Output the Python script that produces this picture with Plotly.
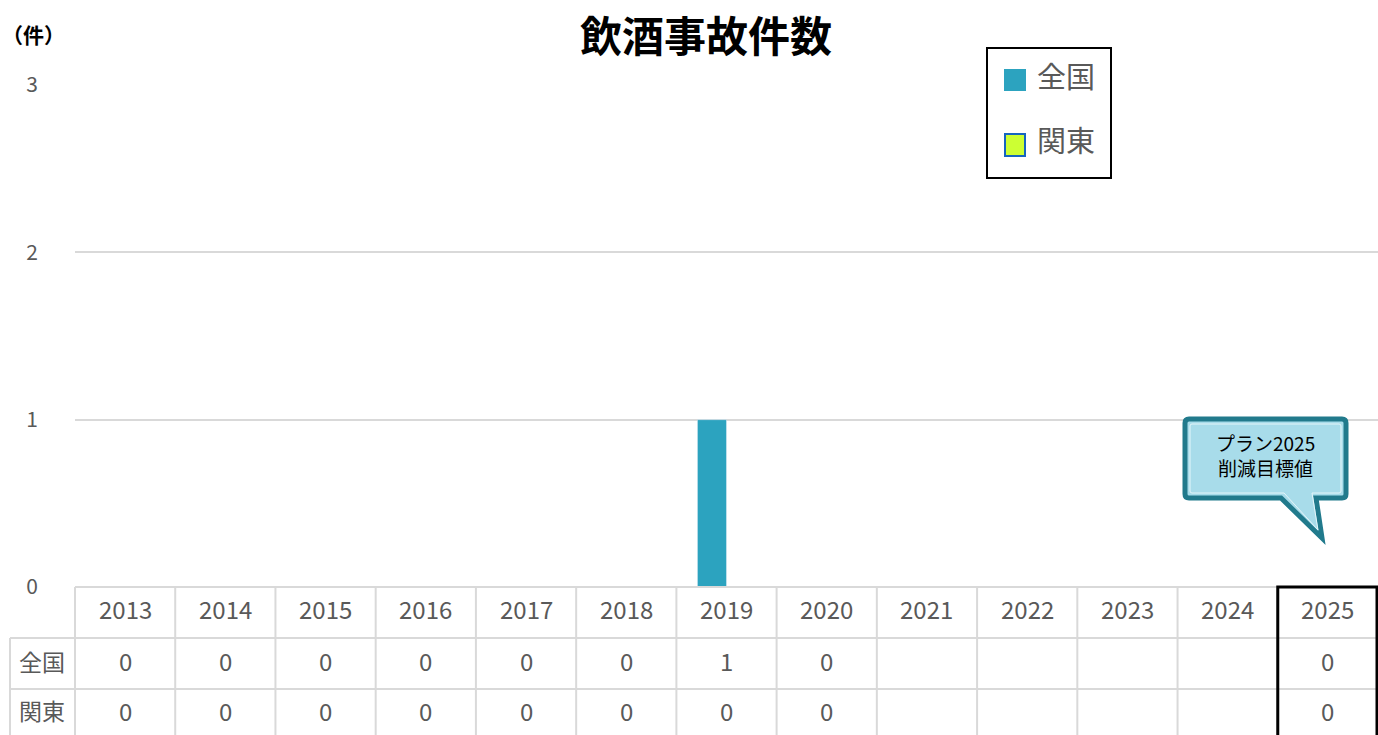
import plotly.graph_objects as go

years = ["2013", "2014", "2015", "2016", "2017", "2018", "2019", "2020",
         "2021", "2022", "2023", "2024", "2025"]
zenkoku = [0, 0, 0, 0, 0, 0, 1, 0, None, None, None, None, 0]
kanto = [0, 0, 0, 0, 0, 0, 0, 0, None, None, None, None, 0]
series_names = ["全国", "関東"]
series_colors = ["#2CA3BF", "#CCFF33"]
y_ticks = [0, 1, 2, 3]

W, H = 1378, 735
L, R, T, B = 75, 0, 85, 148
PW, PH = W - L - R, H - T - B

def px(x):
    return (x - L) / PW

def py(y):
    return (H - B - y) / PH

FONT = "Noto Sans CJK JP"
GRAY = "#595959"
GRID = "#D9D9D9"

fig = go.Figure()
fig.add_bar(x=years, y=zenkoku, name=series_names[0], marker=dict(color=series_colors[0]))
fig.add_bar(x=years, y=kanto, name=series_names[1],
            marker=dict(color=series_colors[1], line=dict(color="#1565C0", width=1)))

shapes = []
annotations = []

def text(xp, yp, t, size, color=GRAY, xanchor="center", xref="paper", xv=None):
    annotations.append(dict(x=xv if xv is not None else px(xp), xref=xref,
                            y=py(yp), yref="paper", text=t, showarrow=False,
                            xanchor=xanchor, yanchor="middle",
                            font=dict(family=FONT, size=size, color=color)))

# table grid
top, r1, r2, bot = 587, 638, 689, 735
def line(x0, y0, x1, y1, color=GRID, width=2):
    shapes.append(dict(type="line", xref="paper", yref="paper",
                       x0=px(x0), y0=py(y0), x1=px(x1), y1=py(y1),
                       line=dict(color=color, width=width)))

line(75, top, W, top)
line(10, r1, W, r1)
line(10, r2, W, r2)
line(10, r1, 10, bot)
cw = PW / len(years)
for i in range(len(years) + 1):
    xx = L + i * cw
    line(xx, top, xx, bot)

# highlight 2025 column
x25 = L + (len(years) - 1) * cw
shapes.append(dict(type="path", xref="paper", yref="paper",
                   path=f"M{px(x25)},{py(bot+5)} L{px(x25)},{py(top)} L{px(W-1)},{py(top)} L{px(W-1)},{py(bot+5)}",
                   line=dict(color="black", width=3)))

def fmt(v):
    return "" if v is None else str(v)

for i, yr in enumerate(years):
    text(None, (top + r1) / 2 - 4, yr, 24, xref="x", xv=i)
    text(None, (r1 + r2) / 2 - 3, fmt(zenkoku[i]), 24, xref="x", xv=i)
    text(None, (r2 + bot) / 2 - 2, fmt(kanto[i]), 24, xref="x", xv=i)
text(42, (r1 + r2) / 2 - 3, series_names[0], 23)
text(42, (r2 + bot) / 2 - 2, series_names[1], 23)

# title and unit
text(706, 33, "<b>飲酒事故件数</b>", 42, color="black")
text(33, 34, "<b>（件）</b>", 21, color="black")

# legend (manual)
shapes.append(dict(type="rect", xref="paper", yref="paper",
                   x0=px(987), y0=py(48), x1=px(1111), y1=py(178),
                   line=dict(color="black", width=2), fillcolor="white"))
shapes.append(dict(type="rect", xref="paper", yref="paper",
                   x0=px(1004), y0=py(69), x1=px(1026), y1=py(91),
                   line=dict(width=0), fillcolor=series_colors[0]))
shapes.append(dict(type="rect", xref="paper", yref="paper",
                   x0=px(1005), y0=py(134), x1=px(1025), y1=py(156),
                   line=dict(color="#1565C0", width=2), fillcolor=series_colors[1]))
text(1035, 75, series_names[0], 29, xanchor="left")
text(1035, 139, series_names[1], 29, xanchor="left")

# callout bubble
def bubble(x0, y0, x1, y1, tx0, tx1, tipx, tipy, r):
    pts = [
        f"M{px(x0+r)},{py(y0)}",
        f"L{px(x1-r)},{py(y0)}",
        f"Q{px(x1)},{py(y0)} {px(x1)},{py(y0+r)}",
        f"L{px(x1)},{py(y1-r)}",
        f"Q{px(x1)},{py(y1)} {px(x1-r)},{py(y1)}",
        f"L{px(tx1)},{py(y1)}",
        f"L{px(tipx)},{py(tipy)}",
        f"L{px(tx0)},{py(y1)}",
        f"L{px(x0+r)},{py(y1)}",
        f"Q{px(x0)},{py(y1)} {px(x0)},{py(y1-r)}",
        f"L{px(x0)},{py(y0+r)}",
        f"Q{px(x0)},{py(y0)} {px(x0+r)},{py(y0)}",
        "Z",
    ]
    return " ".join(pts)

shapes.append(dict(type="path", xref="paper", yref="paper",
                   path=bubble(1185, 419, 1346, 498, 1281, 1316, 1322, 538, 4),
                   fillcolor="#A8DCEA", line=dict(color="#217A8C", width=5)))
shapes.append(dict(type="path", xref="paper", yref="paper",
                   path=bubble(1190, 424, 1341, 493, 1284, 1312, 1318, 530, 2),
                   fillcolor="rgba(0,0,0,0)", line=dict(color="#E4F5F9", width=1)))
text(1265, 455, "プラン2025<br>削減目標値", 19, color="black")

fig.update_layout(
    width=W, height=H,
    margin=dict(l=L, r=R, t=T, b=B, pad=0),
    paper_bgcolor="white", plot_bgcolor="white",
    showlegend=False,
    barmode="group", bargap=0.42, bargroupgap=0,
    font=dict(family=FONT, color=GRAY),
    xaxis=dict(type="category", range=[-0.5, 12.5], showticklabels=False,
               showgrid=False, zeroline=False, showline=False, ticks=""),
    yaxis=dict(range=[0, 3], tickvals=y_ticks, showgrid=True, gridcolor=GRID,
               gridwidth=2, zeroline=False, showline=False, ticks="",
               ticklabelstandoff=36,
               tickfont=dict(family=FONT, size=21, color=GRAY)),
    shapes=shapes,
    annotations=annotations,
)

fig.write_html("out.html", config={"displayModeBar": False},
               post_script="document.body.style.margin='0px';document.body.style.overflow='hidden';")
